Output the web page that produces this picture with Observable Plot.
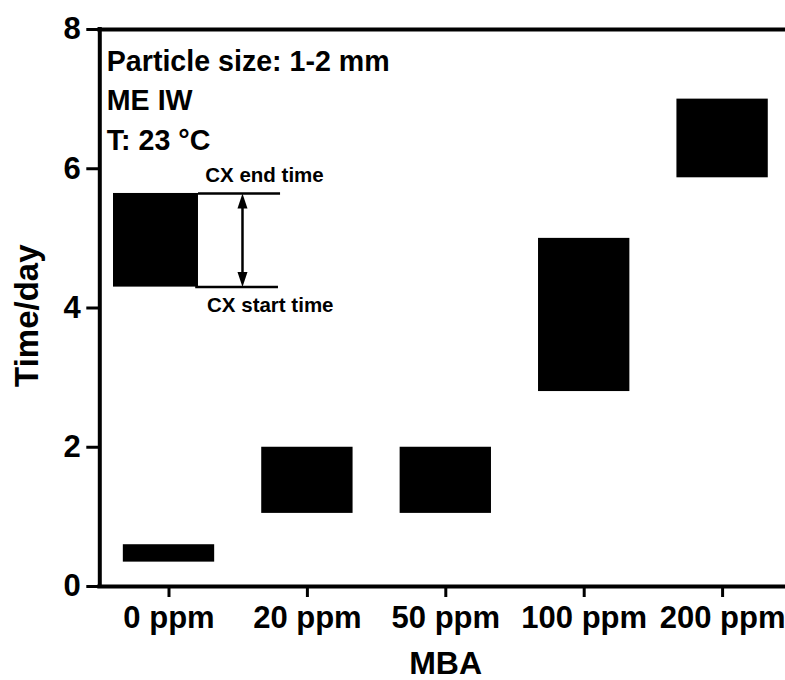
<!DOCTYPE html>
<html>
<head>
<meta charset="utf-8">
<script src="https://cdn.jsdelivr.net/npm/d3@7"></script>
<script src="https://cdn.jsdelivr.net/npm/@observablehq/plot@0.6"></script>
<style>
  body { margin: 0; background: #fff; }
  #chart svg { display: block; }
</style>
</head>
<body>
<div id="chart"></div>
<script>
// ---- data ----
const categories = ["0 ppm", "20 ppm", "50 ppm", "100 ppm", "200 ppm"];
const startTimes = [0.35, 1.05, 1.05, 2.8, 5.87];   // CX start time (day)
const endTimes   = [0.6, 2.0, 2.0, 5.0, 7.0];       // CX end time (day)
const yTicks = [0, 2, 4, 6, 8];
const notes = ["Particle size: 1-2 mm", "ME IW", "T: 23 °C"];
const keyLabels = ["CX end time", "CX start time"];
const keyStart = 4.3;   // example box in the key
const keyEnd = 5.645;

const rows = categories.map((c, i) => ({c, i, start: startTimes[i], end: endTimes[i]}));

const FONT = "'Liberation Sans', Arial, Helvetica, sans-serif";
const half = 0.33;

// filled, elongated arrow head with its tip at the origin, pointing up
const headSymbol = {
  draw(ctx) {
    ctx.moveTo(0, 0);
    ctx.lineTo(5, 15);
    ctx.lineTo(-5, 15);
    ctx.closePath();
  }
};

const keyX = {box1: -0.401, box2: 0.213, lineEnd: 0.806, lineEnd2: 0.791, arrow: 0.531, text1: 0.262, text2: 0.275};

const chart = Plot.plot({
  width: 785,
  height: 680,
  marginLeft: 99.3,
  marginRight: 0,
  marginTop: 29,
  marginBottom: 94,
  style: {fontFamily: FONT, fontWeight: "bold", color: "#000", background: "#fff"},
  x: {type: "linear", domain: [-0.5, 4.5], range: [99.3, 791.3], axis: null},
  y: {domain: [0, 8], axis: null},
  marks: [
    // bars
    Plot.rect(rows, {x1: d => d.i - half, x2: d => d.i + half, y1: "start", y2: "end", fill: "#000"}),
    // axes
    Plot.axisY(yTicks, {tickFormat: d => String(d), tickSize: 13, tickPadding: 6, fontSize: 31, fontWeight: "bold", strokeWidth: 3, label: null}),
    Plot.axisX([0, 1, 2, 3, 4], {tickFormat: i => categories[i], tickSize: 11, tickPadding: 8, fontSize: 31, fontWeight: "bold", strokeWidth: 3, label: null}),
    Plot.ruleY([0, 8], {strokeWidth: 4, strokeLinecap: "square"}),
    Plot.ruleX([-0.5], {strokeWidth: 4, strokeLinecap: "square"}),
    // axis titles
    Plot.text(["MBA"], {frameAnchor: "bottom", dx: 3, dy: 87, lineAnchor: "bottom", fontSize: 32, fontWeight: "bold"}),
    Plot.text(["Time/day"], {x: -0.5, y: 3.89, dx: -62, rotate: -90, lineAnchor: "bottom", fontSize: 33, fontWeight: "bold"}),
    // notes
    Plot.text([notes.join("\n")], {frameAnchor: "top-left", dx: 7, dy: 13, lineAnchor: "top", textAnchor: "start", lineHeight: 1.39, fontSize: 28.6, fontWeight: "bold"}),
    // key
    Plot.rect([{a: keyStart, b: keyEnd}], {x1: keyX.box1, x2: keyX.box2, y1: "a", y2: "b", fill: "#000"}),
    Plot.ruleY([keyEnd], {x1: keyX.box2, x2: keyX.lineEnd, strokeWidth: 2.5}),
    Plot.ruleY([keyStart], {x1: keyX.box2 - 0.02, x2: keyX.lineEnd2, strokeWidth: 2.5}),
    Plot.ruleX([keyX.arrow], {y1: keyStart + 0.1, y2: keyEnd - 0.1, strokeWidth: 2.5}),
    Plot.dot([keyEnd], {x: keyX.arrow, y: d => d, symbol: headSymbol, fill: "#000", stroke: null, r: 5}),
    Plot.dot([keyStart], {x: keyX.arrow, y: d => d, symbol: headSymbol, rotate: 180, fill: "#000", stroke: null, r: 5}),
    Plot.text([keyLabels[0]], {x: keyX.text1, y: keyEnd, dy: -11, textAnchor: "start", lineAnchor: "bottom", fontSize: 20.5, fontWeight: "bold"}),
    Plot.text([keyLabels[1]], {x: keyX.text2, y: keyStart, dy: 25, textAnchor: "start", lineAnchor: "bottom", fontSize: 20.5, fontWeight: "bold"})
  ]
});
document.getElementById("chart").appendChild(chart);
</script>
</body>
</html>
